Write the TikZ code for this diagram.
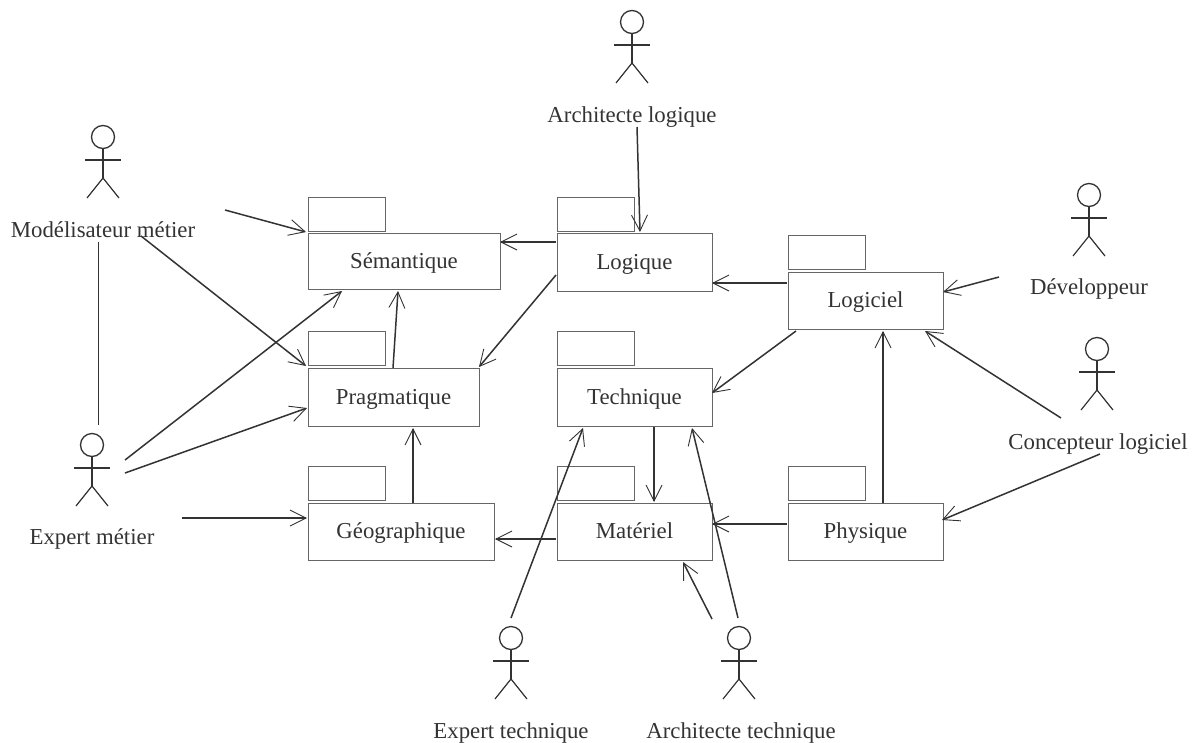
\documentclass[tikz,border=0pt]{standalone}
\usepackage{fontspec}
\setmainfont{Liberation Serif}
\usetikzlibrary{arrows.meta}
\definecolor{boxline}{HTML}{666666}
\definecolor{ink}{HTML}{333333}
\tikzset{
  pkgbox/.style={draw=boxline,line width=1pt,rectangle,anchor=north west,inner sep=0pt,outer sep=0pt,text=ink,text height=17pt,text depth=3pt,font=\fontsize{22.8}{24}\selectfont},
  pkgtab/.style={draw=boxline,line width=1pt,rectangle,anchor=north west,inner sep=0pt,outer sep=0pt,minimum width=77pt,minimum height=34pt},
  lbl/.style={text=ink,inner sep=0pt,outer sep=0pt,text height=17pt,text depth=3pt,font=\fontsize{22.8}{24}\selectfont},
  head/.style={draw=ink,line width=1.3pt,circle,inner sep=0pt,outer sep=0pt,minimum size=23pt},
  actorline/.style={draw=ink,line width=1.6pt},
  link/.style={draw=ink,line width=1.5pt,-{Straight Barb[length=16pt,width=16pt,line width=.9pt]}},
  plainlink/.style={draw=ink,line width=.9pt}
}
\newcommand{\actorfig}[3]{%
  \node[head] (#1) at (#2,#3) {};
  \draw[actorline] (#1.south) -- ([shift={(0,41)}]#1.center);
  \draw[actorline] ([shift={(-18,23)}]#1.center) -- ([shift={(18,23)}]#1.center);
  \draw[actorline,line width=1.2pt] ([shift={(-16,61)}]#1.center) -- ([shift={(0,41)}]#1.center) -- ([shift={(16,61)}]#1.center);
}
\begin{document}
\begin{tikzpicture}[x=1pt,y=-1pt]
\useasboundingbox (0,0) rectangle (1196,742);
% packages
\node[pkgtab] (semtab) at (308,197) {};
\node[pkgbox,minimum width=192pt,minimum height=56pt] (sem) at (308,233) {Sémantique};
\node[pkgtab] (logtab) at (557,197) {};
\node[pkgbox,minimum width=155pt,minimum height=58pt] (logi) at (557,233) {Logique};
\node[pkgtab] (lcltab) at (788,235) {};
\node[pkgbox,minimum width=155pt,minimum height=57pt] (lcl) at (788,272) {Logiciel};
\node[pkgtab] (pratab) at (308,331) {};
\node[pkgbox,minimum width=171pt,minimum height=58pt] (pra) at (308,368) {Pragmatique};
\node[pkgtab] (tectab) at (557,331) {};
\node[pkgbox,minimum width=155pt,minimum height=58pt] (tec) at (557,368) {Technique};
\node[pkgtab] (geotab) at (308,466) {};
\node[pkgbox,minimum width=186pt,minimum height=57pt] (geo) at (308,503) {Géographique};
\node[pkgtab] (mattab) at (557,466) {};
\node[pkgbox,minimum width=155pt,minimum height=57pt] (mat) at (557,503) {Matériel};
\node[pkgtab] (phytab) at (788,466) {};
\node[pkgbox,minimum width=155pt,minimum height=57pt] (phy) at (788,503) {Physique};
% actors
\actorfig{aal}{632}{22}
\actorfig{amm}{103}{137}
\actorfig{aem}{92}{445}
\actorfig{aet}{511}{638}
\actorfig{aat}{739}{638}
\actorfig{adv}{1089}{195}
\actorfig{acl}{1097}{349}
% labels
\node[lbl] (lal) at (632,115) {Architecte logique};
\node[lbl] (lmm) at (103,230) {Modélisateur métier};
\node[lbl] (lem) at (92,537) {Expert métier};
\node[lbl] (let) at (511,731) {Expert technique};
\node[lbl] (lat) at (741,731) {Architecte technique};
\node[lbl] (ldv) at (1089,287) {Développeur};
\node[lbl] (lcp) at (1098,442) {Concepteur logiciel};
% connectors
\draw[link] ([shift={(122,-20)}]lmm.center) -- ([shift={(-2,-1)}]sem.north west);
\draw[link] ([shift={(38,6)}]lmm.center) -- ([shift={(-2,-2)}]pra.north west);
\draw[plainlink] ([shift={(-5,12)}]lmm.center) -- ([shift={(6,-20)}]aem.center);
\draw[link] ([shift={(33,15)}]aem.center) -- ([shift={(34,58)}]sem.north west);
\draw[link] ([shift={(33,28)}]aem.center) -- ([shift={(-1,40)}]pra.north west);
\draw[link] ([shift={(90,-19)}]lem.center) -- ([shift={(-1,15)}]geo.north west);
\draw[link] ([shift={(85,0)}]pra.north west) -- ([shift={(90,58)}]sem.north west);
\draw[link] ([shift={(105,0)}]geo.north west) -- ([shift={(105,60)}]pra.north west);
\draw[link] ([shift={(-1,9)}]logi.north west) -- ([shift={(192,9)}]sem.north west);
\draw[link] ([shift={(-1,42)}]logi.north west) -- ([shift={(171,-1)}]pra.north west);
\draw[link] ([shift={(5,12)}]lal.center) -- ([shift={(83,-1)}]logi.north west);
\draw[link] ([shift={(-1,11)}]lcl.north west) -- ([shift={(155,50)}]logi.north west);
\draw[link] ([shift={(-90,-10)}]ldv.center) -- ([shift={(155,20)}]lcl.north west);
\draw[link] ([shift={(8,59)}]lcl.north west) -- ([shift={(155,25)}]tec.north west);
\draw[link] ([shift={(-37,-24)}]lcp.center) -- ([shift={(137,59)}]lcl.north west);
\draw[link] ([shift={(2,12)}]lcp.center) -- ([shift={(154,17)}]phy.north west);
\draw[link] ([shift={(95,0)}]phy.north west) -- ([shift={(95,59)}]lcl.north west);
\draw[link] ([shift={(-1,21)}]phy.north west) -- ([shift={(155,21)}]mat.north west);
\draw[link] ([shift={(97,59)}]tec.north west) -- ([shift={(97,-1)}]mat.north west);
\draw[link] ([shift={(-1,36)}]mat.north west) -- ([shift={(187,36)}]geo.north west);
\draw[link] ([shift={(0,-20)}]aet.center) -- ([shift={(26,60)}]tec.north west);
\draw[link] ([shift={(-1,-20)}]aat.center) -- ([shift={(135,60)}]tec.north west);
\draw[link] ([shift={(-27,-19)}]aat.center) -- ([shift={(126,59)}]mat.north west);
\end{tikzpicture}
\end{document}
